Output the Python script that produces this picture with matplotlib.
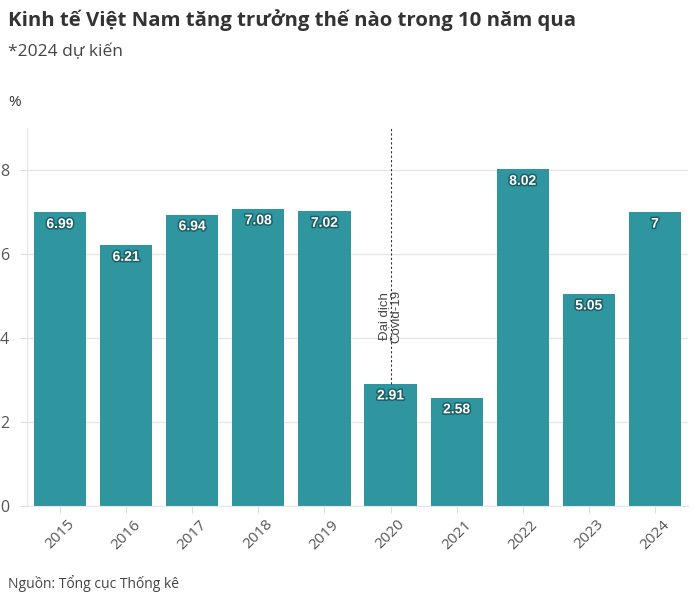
import matplotlib
matplotlib.use("Agg")
import matplotlib.pyplot as plt
import matplotlib.patheffects as pe

years = ["2015", "2016", "2017", "2018", "2019", "2020", "2021", "2022", "2023", "2024"]
growth = [6.99, 6.21, 6.94, 7.08, 7.02, 2.91, 2.58, 8.02, 5.05, 7]
value_labels = ["6.99", "6.21", "6.94", "7.08", "7.02", "2.91", "2.58", "8.02", "5.05", "7"]
yticks = [0, 2, 4, 6, 8]
covid_year = "2020"

title = "Kinh tế Việt Nam tăng trưởng thế nào trong 10 năm qua"
subtitle = "*2024 dự kiến"
unit = "%"
source = "Nguồn: Tổng cục Thống kê"
annot = "Đại dịch\nCovid-19"

plt.rcParams['font.family'] = ['Open Sans', 'DejaVu Sans']
bar_color = "#2F96A0"
gray = "#555555"

fig = plt.figure(figsize=(7.0, 5.97), dpi=100)
ax = fig.add_axes([27/700, 1 - 506/597, (688-27)/700, (506-128)/597])

x = list(range(len(years)))
bars = ax.bar(x, growth, width=0.79, color=bar_color, zorder=2)
ax.set_xlim(-0.5, len(years) - 0.5)
ax.set_ylim(0, 9)
ax.set_yticks(yticks)
ax.set_yticklabels([str(t) for t in yticks], color=gray, fontsize=11.5)
ax.set_xticks(x)
ax.set_xticklabels(years, rotation=45, color=gray, fontsize=11, ha="center", va="top",
                   rotation_mode="default")
ax.tick_params(axis="y", length=5, color="#dddddd", pad=8)
ax.tick_params(axis="x", length=5, color="#dddddd", pad=3)
ax.grid(axis="y", color="#e6e6e6", linewidth=1, zorder=0)
for s in ["top", "right"]:
    ax.spines[s].set_visible(False)
ax.spines["left"].set_color("#e6e6e6")
ax.spines["bottom"].set_color("#e6e6e6")

for xi, v, lab in zip(x, growth, value_labels):
    ax.text(xi, v - 0.11, lab, ha="center", va="top", color="white", fontsize=10,
            fontweight="bold", family=["Liberation Sans", "DejaVu Sans"], zorder=4,
            path_effects=[pe.withStroke(linewidth=2.2, foreground="#1d5f66")])

ci = years.index(covid_year)
ax.plot([ci, ci], [growth[ci], 9], linestyle=(0, (2, 2)), color="#333333", linewidth=0.8, zorder=3)
ax.text(ci, 3.88, annot, rotation=90, ha="center", va="bottom", fontsize=9.5,
        color="#444444", family=["Liberation Sans", "DejaVu Sans"], linespacing=1.0, zorder=3)

fig.text(8/700, 1 - 20/597, title, fontsize=14.7, fontweight="bold", color="#333333", va="center")
fig.text(8/700, 1 - 52/597, subtitle, fontsize=12.5, color="#444444", va="center")
fig.text(8/700, 1 - 102/597, unit, fontsize=11, color="#333333", va="center")
fig.text(8/700, 1 - 583/597, source, fontsize=10, color="#444444", va="center")

fig.savefig("out.png", dpi=100)
